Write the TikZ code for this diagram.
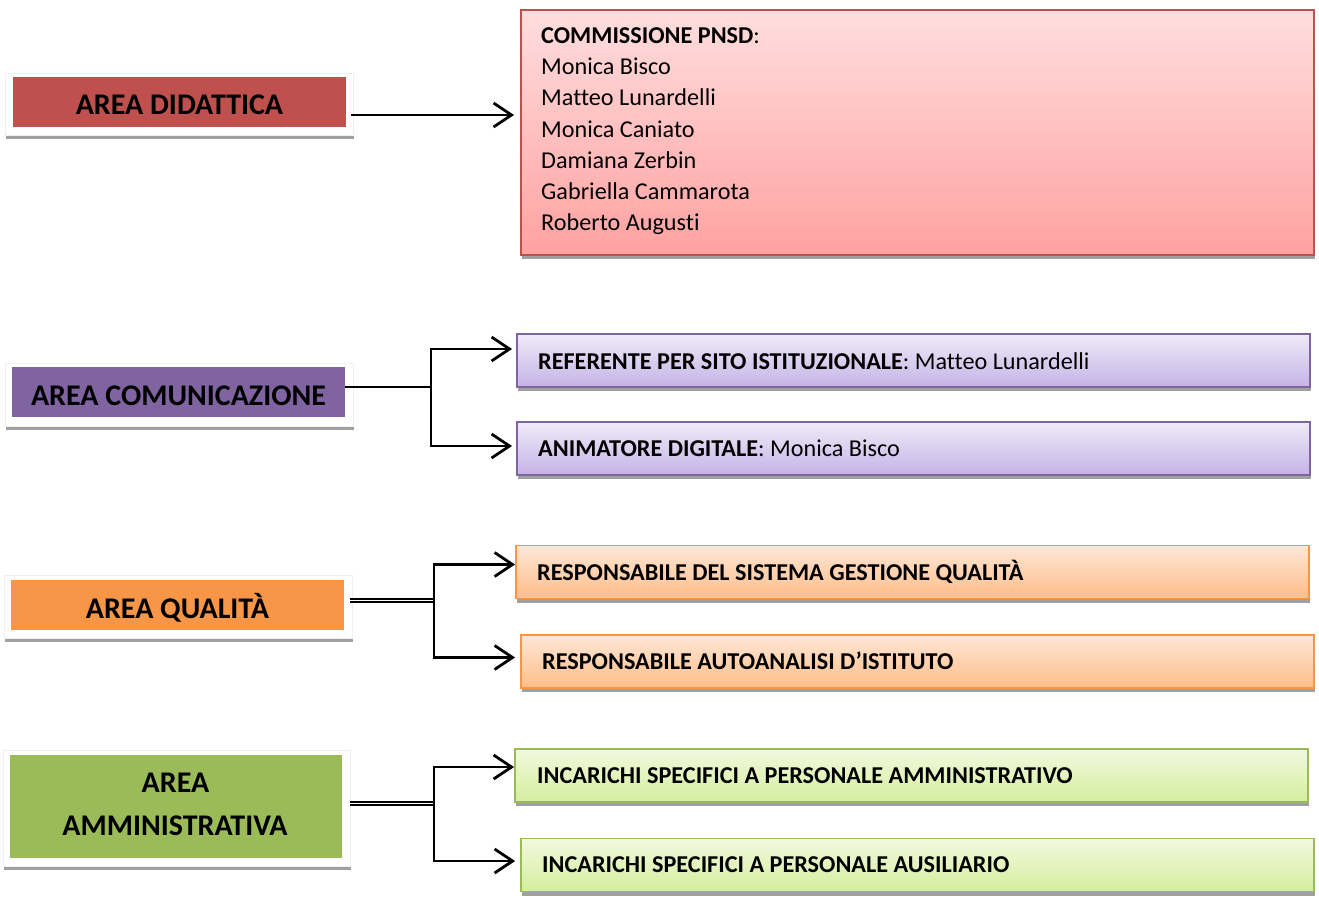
\documentclass[tikz,border=0pt]{standalone}
\usepackage{fontspec}
\setmainfont{Carlito}[Ligatures={NoCommon}]
\usetikzlibrary{arrows.meta,shadows}
\definecolor{redD}{HTML}{C0504D}
\definecolor{redT}{HTML}{FFDEDE}
\definecolor{redB}{HTML}{FFA1A1}
\definecolor{purD}{HTML}{8064A2}
\definecolor{purT}{HTML}{EFEBF8}
\definecolor{purB}{HTML}{C5B3E6}
\definecolor{oraD}{HTML}{F79646}
\definecolor{oraT}{HTML}{FFE7D7}
\definecolor{oraB}{HTML}{FFBD88}
\definecolor{grnD}{HTML}{9BBB59}
\definecolor{grnT}{HTML}{F2F9DF}
\definecolor{grnB}{HTML}{D4EE9D}
\definecolor{shad}{HTML}{A0A0A0}
\begin{document}
\begin{tikzpicture}[x=1pt,y=-1pt,
  sh/.style={drop shadow={shadow xshift=1pt,shadow yshift=-4pt,fill=shad,opacity=1}},
  frame/.style={rectangle,inner sep=0pt,fill=white,draw=gray!12,line width=0.8pt,sh},
  areafill/.style={rectangle,inner sep=0pt,draw=none,fill=#1},
  rbox/.style n args={3}{rectangle,inner sep=0pt,draw=#1,top color=#2,bottom color=#3,line width=1.8pt,sh},
  areatxt/.style={anchor=base,inner sep=0pt,font=\bfseries\fontsize{30}{36}\selectfont},
  btxt/.style={anchor=base west,inner sep=0pt,font=\fontsize{24.2}{29}\selectfont},
  conn/.style={line width=2.8pt,black},
  arr/.style={conn,-{Straight Barb[length=18pt,width=24pt,line width=2.8pt]}},
  dbl/.style={line width=2.2pt,double=white,double distance=1.2pt,black}
]
\useasboundingbox (0,0) rectangle (1319,900);

% ---------- left area boxes ----------
\node[frame,minimum width=348,minimum height=62] (didF) at (179,104) {};
\node[areafill=redD,minimum width=333,minimum height=50] (did) at (179.5,102) {};
\node[areatxt] (didT) at (179.5,114) {AREA DIDATTICA};

\node[frame,minimum width=348,minimum height=63] (comF) at (179,394.5) {};
\node[areafill=purD,minimum width=333,minimum height=50] (com) at (178.5,392) {};
\node[areatxt] (comT) at (178.5,405) {AREA COMUNICAZIONE};

\node[frame,minimum width=348,minimum height=63] (quaF) at (178,606.5) {};
\node[areafill=oraD,minimum width=333,minimum height=50] (qua) at (177.5,605) {};
\node[areatxt] (quaT) at (177.5,618) {AREA QUALITÀ};

\node[frame,minimum width=347,minimum height=116] (ammF) at (176.5,808) {};
\node[areafill=grnD,minimum width=332,minimum height=103] (amm) at (176,806.5) {};
\node[areatxt] (ammT1) at (175.5,792) {AREA};
\node[areatxt] (ammT2) at (175,835) {AMMINISTRATIVA};

% ---------- right boxes ----------
\node[rbox={redD}{redT}{redB},minimum width=793,minimum height=245] (pnsd) at (917.5,132.5) {};
\node[btxt] (p0) at (541,43) {\textbf{COMMISSIONE PNSD}:};
\node[btxt] (p1) at (541,74.3) {Monica Bisco};
\node[btxt] (p2) at (541,105.6) {Matteo Lunardelli};
\node[btxt] (p3) at (541,137) {Monica Caniato};
\node[btxt] (p4) at (541,168.2) {Damiana Zerbin};
\node[btxt] (p5) at (541,199.5) {Gabriella Cammarota};
\node[btxt] (p6) at (541,230.8) {Roberto Augusti};

\node[rbox={purD}{purT}{purB},minimum width=793,minimum height=53] (ref) at (913.5,360.5) {};
\node[btxt] (refT) at (538,369) {\textbf{REFERENTE PER SITO ISTITUZIONALE}: Matteo Lunardelli};
\node[rbox={purD}{purT}{purB},minimum width=793,minimum height=53] (ani) at (913.5,448.5) {};
\node[btxt] (aniT) at (538,456) {\textbf{ANIMATORE DIGITALE}: Monica Bisco};

\node[rbox={oraD}{oraT}{oraB},minimum width=793,minimum height=53] (rsg) at (912.5,572) {};
\node[btxt] (rsgT) at (537,580) {\textbf{RESPONSABILE DEL SISTEMA GESTIONE QUALITÀ}};
\node[rbox={oraD}{oraT}{oraB},minimum width=793,minimum height=53] (rai) at (917.5,661.5) {};
\node[btxt] (raiT) at (542,669) {\textbf{RESPONSABILE AUTOANALISI D’ISTITUTO}};

\node[rbox={grnD}{grnT}{grnB},minimum width=793,minimum height=53] (ipa) at (911.5,775.5) {};
\node[btxt] (ipaT) at (537,783) {\textbf{INCARICHI SPECIFICI A PERSONALE AMMINISTRATIVO}};
\node[rbox={grnD}{grnT}{grnB},minimum width=793,minimum height=53] (ipu) at (917.5,865) {};
\node[btxt] (ipuT) at (542,872) {\textbf{INCARICHI SPECIFICI A PERSONALE AUSILIARIO}};

% ---------- connectors ----------
\coordinate (dS) at (351,115);
\draw[arr,shorten >=6pt] (dS) -- (dS -| pnsd.west);

\coordinate (cS) at (345,387);
\coordinate (cJ) at (431,387);
\draw[conn] (cS) -- (cJ);
\draw[arr,shorten >=4pt] (cJ) |- ([yshift=11.5pt]ref.west);
\draw[arr,shorten >=4pt] (cJ) |- ([yshift=2.5pt]ani.west);

\coordinate (qS) at (350,600.5);
\coordinate (qJ) at (434,600.5);
\draw[dbl] (qS) -- (qJ);
\draw[arr,shorten >=0pt] (qJ) |- ([yshift=7.5pt]rsg.west);
\draw[arr,shorten >=5pt] (qJ) |- ([yshift=4pt]rai.west);

\coordinate (aS) at (350,803.5);
\coordinate (aJ) at (434,803.5);
\draw[dbl] (aS) -- (aJ);
\draw[arr,shorten >=0pt] (aJ) |- ([yshift=8.5pt]ipa.west);
\draw[arr,shorten >=5pt] (aJ) |- ([yshift=4pt]ipu.west);
\end{tikzpicture}
\end{document}
